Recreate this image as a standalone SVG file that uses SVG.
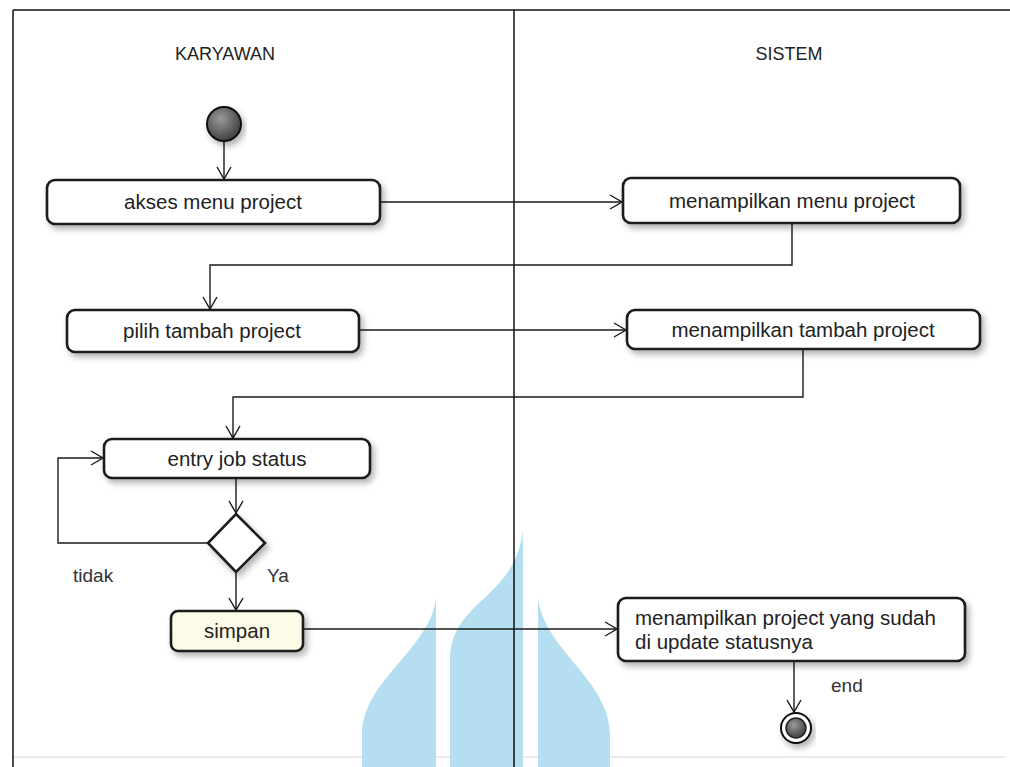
<svg xmlns="http://www.w3.org/2000/svg" width="1010" height="767" viewBox="0 0 1010 767">
<style>
.frame{stroke:#111;stroke-width:1.5;fill:none}
.box{fill:#fff;stroke:#1a1a1a;stroke-width:2.6}
.lbl{font-family:"Liberation Sans",Arial,sans-serif;font-size:20.5px;fill:#222}
.hdr{font-family:"Liberation Sans",Arial,sans-serif;font-size:18px;fill:#222}
.note{font-family:"Liberation Sans",Arial,sans-serif;font-size:19px;fill:#333}
.edge{stroke:#1a1a1a;stroke-width:1.4;fill:none}
.wm{fill:#b5dff1}
</style>
<defs>
<filter id="sh" x="-10%" y="-20%" width="125%" height="160%">
<feDropShadow dx="3" dy="4" stdDeviation="3" flood-color="#000" flood-opacity="0.3"/>
</filter>
<marker id="arr" markerUnits="userSpaceOnUse" markerWidth="16" markerHeight="18" refX="13" refY="8" orient="auto">
<path d="M1,1 L13,8 L1,15" fill="none" stroke="#1a1a1a" stroke-width="1.4"/>
</marker>
<radialGradient id="dot" cx="40%" cy="35%" r="70%">
<stop offset="0" stop-color="#9a9a9a"/>
<stop offset="1" stop-color="#3a3a3a"/>
</radialGradient>
</defs>
<rect x="0" y="0" width="1010" height="767" fill="#fff"/>
<line x1="13" y1="757" x2="1005" y2="757" stroke="#ececec" stroke-width="2"/>
<g id="watermark">
<path class="wm" d="M436,598 C430,650 362,680 362,735 L362,767 L436,767 Z"/>
<path class="wm" d="M523,530 C515,600 450,600 450,660 L450,767 L523,767 Z"/>
<path class="wm" d="M538,598 C544,650 610,680 610,735 L610,767 L538,767 Z"/>
</g>
<g id="lanes">
<line class="frame" x1="13" y1="10" x2="1010" y2="10"/>
<line class="frame" x1="13" y1="10" x2="13" y2="767"/>
<line class="frame" x1="514" y1="10" x2="514" y2="767"/>
<text class="hdr" x="225" y="60" text-anchor="middle">KARYAWAN</text>
<text class="hdr" x="789" y="60" text-anchor="middle">SISTEM</text>
</g>
<g id="connectors">
<line class="edge" x1="224" y1="130" x2="224" y2="179" marker-end="url(#arr)"/>
<line class="edge" x1="380" y1="202" x2="622" y2="202" marker-end="url(#arr)"/>
<polyline class="edge" points="792,223 792,265 210,265 210,309" marker-end="url(#arr)"/>
<line class="edge" x1="359" y1="330" x2="626" y2="330" marker-end="url(#arr)"/>
<polyline class="edge" points="803,349 803,397 233,397 233,438" marker-end="url(#arr)"/>
<line class="edge" x1="236" y1="478" x2="236" y2="513" marker-end="url(#arr)"/>
<polyline class="edge" points="208,543 58,543 58,458 103,458" marker-end="url(#arr)"/>
<line class="edge" x1="236" y1="572" x2="236" y2="610" marker-end="url(#arr)"/>
<line class="edge" x1="303" y1="629" x2="617" y2="629" marker-end="url(#arr)"/>
<line class="edge" x1="794" y1="661" x2="794" y2="712" marker-end="url(#arr)"/>
<text class="note" x="73" y="582">tidak</text>
<text class="note" x="267" y="582">Ya</text>
<text class="note" x="831" y="692">end</text>
</g>
<g id="start">
<circle cx="224" cy="124" r="17" fill="url(#dot)" stroke="#111" stroke-width="2" filter="url(#sh)"/>
</g>
<g id="n1">
<rect class="box" x="47" y="180" width="333" height="44" rx="8" filter="url(#sh)"/>
<text class="lbl" x="213" y="209" text-anchor="middle">akses menu project</text>
</g>
<g id="n2">
<rect class="box" x="623" y="178" width="337" height="45" rx="8" filter="url(#sh)"/>
<text class="lbl" x="792" y="208" text-anchor="middle">menampilkan menu project</text>
</g>
<g id="n3">
<rect class="box" x="67" y="310" width="292" height="42" rx="8" filter="url(#sh)"/>
<text class="lbl" x="212" y="338" text-anchor="middle">pilih tambah project</text>
</g>
<g id="n4">
<rect class="box" x="627" y="310" width="353" height="39" rx="8" filter="url(#sh)"/>
<text class="lbl" x="803" y="337" text-anchor="middle">menampilkan tambah project</text>
</g>
<g id="n5">
<rect class="box" x="104" y="439" width="266" height="39" rx="8" filter="url(#sh)"/>
<text class="lbl" x="237" y="466" text-anchor="middle">entry job status</text>
</g>
<g id="decision">
<polygon class="box" points="236,514 265,543 236,572 208,543" filter="url(#sh)"/>
</g>
<g id="n6">
<rect class="box" x="171" y="611" width="132" height="40" rx="7" fill="#fbfbe8" style="fill:#fbfbe8" filter="url(#sh)"/>
<text class="lbl" x="237" y="638" text-anchor="middle">simpan</text>
</g>
<g id="n7">
<rect class="box" x="618" y="598" width="347" height="63" rx="8" filter="url(#sh)"/>
<text class="lbl" x="635" y="625">menampilkan project yang sudah</text>
<text class="lbl" x="635" y="649">di update statusnya</text>
</g>
<g id="end">
<circle cx="796" cy="728" r="15" fill="#fff" stroke="#111" stroke-width="2" filter="url(#sh)"/>
<circle cx="796" cy="728" r="10" fill="url(#dot)" stroke="#222" stroke-width="1.5"/>
</g>
</svg>
